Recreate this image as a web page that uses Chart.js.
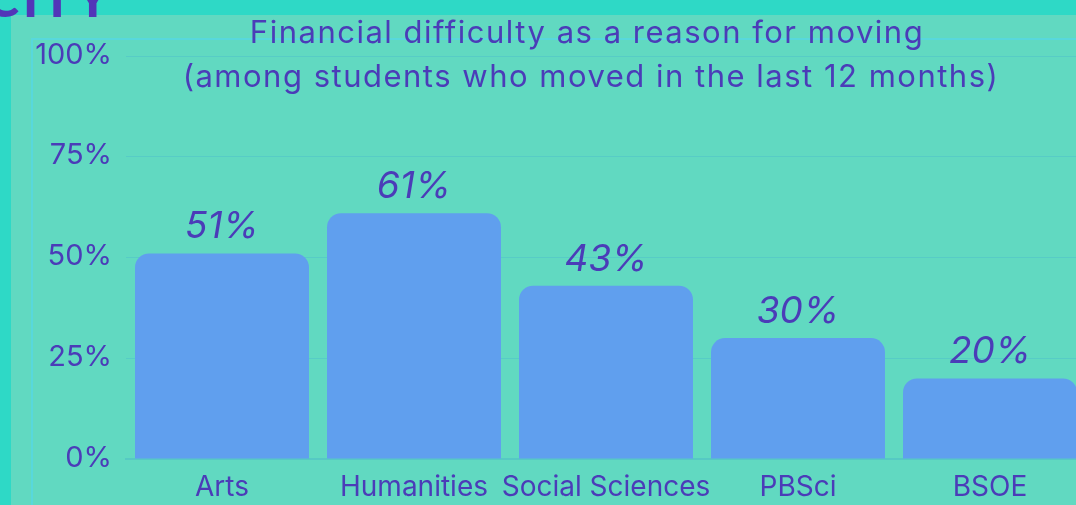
<!DOCTYPE html>
<html><head><meta charset="utf-8">
<script src="https://cdn.jsdelivr.net/npm/chart.js@4"></script>
<style>
html,body{margin:0;padding:0;width:1076px;height:505px;overflow:hidden;background:#2ed9c6;}
#panel{position:absolute;left:11px;top:15px;width:1100px;height:520px;background:#61d9c1;}
#frame{position:absolute;left:31px;top:38px;width:1100px;height:520px;border-left:2px solid #58d8dc;border-top:2px solid #58d8dc;}
#city{position:absolute;left:-14px;top:-32px;font:900 50px Lato;color:#5236b8;letter-spacing:4px;}
#wrap{position:absolute;left:0;top:0;width:1100px;height:505px;}
</style></head><body>
<div id="panel"></div><div id="frame"></div><div id="city">CITY</div>
<div id="wrap"><canvas id="c" width="1100" height="505" style="width:1100px;height:505px"></canvas></div>
<script>
const TITLE_LINES = ['Financial difficulty as a reason for moving', '(among students who moved in the last 12 months)'];
const CATEGORIES = ['Arts', 'Humanities', 'Social Sciences', 'PBSci', 'BSOE'];
const VALUES = [51, 61, 43, 30, 20];
const Y_TICK_LABELS = ['0%', '25%', '50%', '75%', '100%'];

const PURPLE = '#4b3cb8';
const FONT = 'Inter';

const overlay = {
  id: 'overlay',
  afterDatasetsDraw(chart) {
    const ctx = chart.ctx;
    const meta = chart.getDatasetMeta(0);
    ctx.save();
    ctx.fillStyle = PURPLE;
    ctx.textAlign = 'center';
    ctx.textBaseline = 'alphabetic';
    ctx.font = 'italic 37px ' + FONT;
    meta.data.forEach((bar, i) => {
      ctx.fillText(VALUES[i] + '%', bar.x, bar.y - 15);
    });
    ctx.font = '31px ' + FONT;
    if ('letterSpacing' in ctx) ctx.letterSpacing = '1.5px';
    ctx.fillText(TITLE_LINES[0], 587, 43);
    ctx.fillText(TITLE_LINES[1], 591, 87);
    ctx.restore();
  }
};

new Chart(document.getElementById('c'), {
  type: 'bar',
  data: {
    labels: CATEGORIES,
    datasets: [{
      data: VALUES,
      backgroundColor: '#609fee',
      borderWidth: 0,
      borderRadius: 14,
      categoryPercentage: 1,
      barPercentage: 0.906
    }]
  },
  options: {
    responsive: false,
    animation: false,
    devicePixelRatio: 1,
    layout: { padding: { left: 0, right: 14, top: 56, bottom: 0 } },
    plugins: { legend: { display: false }, title: { display: false }, tooltip: { enabled: false } },
    scales: {
      x: {
        afterFit(scale) { scale.height = 46; },
        grid: { drawOnChartArea: false, drawTicks: false },
        border: { display: true, color: '#56c9c4', width: 2 },
        ticks: { color: PURPLE, font: { family: FONT, size: 28 }, padding: 12, maxRotation: 0, autoSkip: false }
      },
      y: {
        min: 0, max: 100,
        afterFit(scale) { scale.width = 126; },
        afterBuildTicks(scale) { scale.ticks = [0, 25, 50, 75, 100].map(v => ({ value: v })); },
        grid: { color: '#57ccc6', lineWidth: 1, drawTicks: false },
        border: { display: false },
        ticks: {
          color: PURPLE, font: { family: FONT, size: 29 }, padding: 14, labelOffset: -1,
          callback: (v, i) => Y_TICK_LABELS[i]
        }
      }
    }
  },
  plugins: [overlay]
});
</script>
</body></html>
